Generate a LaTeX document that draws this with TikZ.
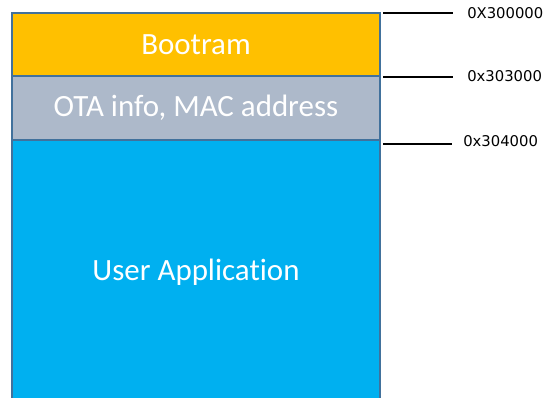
\documentclass[tikz,border=0pt]{standalone}
\usepackage{fontspec}
\setmainfont[Ligatures=NoCommon]{Carlito}
\newfontfamily\labelfont{DejaVu Sans}
\definecolor{bootc}{HTML}{FFC000}
\definecolor{otac}{HTML}{ADB9CA}
\definecolor{appc}{HTML}{00B0F0}
\definecolor{edgec}{HTML}{41719C}
\begin{document}
\begin{tikzpicture}[x=0.75pt,y=-0.75pt,
  layer/.style={draw=edgec, line width=0.9pt, anchor=north west, minimum width=276pt,
    inner sep=0pt, outer sep=0pt, text=white, font=\fontsize{23.2}{27}\selectfont},
  addr/.style={anchor=west, inner sep=0pt, font=\labelfont\fontsize{11.1}{13}\selectfont},
  tick/.style={line width=1.5pt, black}]
\useasboundingbox (0,0) rectangle (545,398);
\node[layer, fill=appc, minimum height=199pt] (app) at (12,140) {User Application};
\node[layer, fill=otac, minimum height=48pt] (ota) at (12,76) {OTA info, MAC address};
\node[layer, fill=bootc, minimum height=47.25pt] (boot) at (12,13) {Bootram};
\coordinate (t1a) at (383,13);  \coordinate (t1b) at (453,13);
\coordinate (t2a) at (383,77);  \coordinate (t2b) at (453,77);
\coordinate (t3a) at (383,144); \coordinate (t3b) at (452,144);
\node[addr] (a1) at (467,13) {0X300000};
\node[addr] (a2) at (467,76) {0x303000};
\node[addr] (a3) at (463,141) {0x304000};
\draw[tick] (t1a) -- (t1b);
\draw[tick] (t2a) -- (t2b);
\draw[tick] (t3a) -- (t3b);
\end{tikzpicture}
\end{document}
